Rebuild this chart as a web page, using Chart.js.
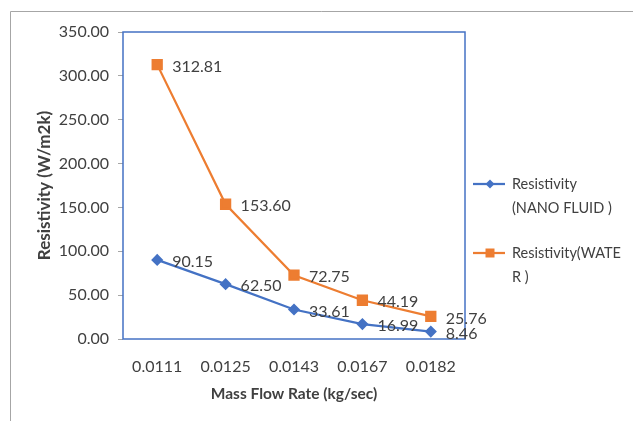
<!DOCTYPE html>
<html>
<head>
<meta charset="utf-8">
<script src="https://cdn.jsdelivr.net/npm/chart.js@4.4.0/dist/chart.umd.min.js"></script>
<style>
  html, body { margin: 0; padding: 0; background: #fff; }
  #wrap { width: 633px; height: 421px; }
</style>
</head>
<body>
<div id="wrap"><canvas id="c" width="633" height="421"></canvas></div>
<script>
  const categories = ["0.0111", "0.0125", "0.0143", "0.0167", "0.0182"];
  const nanoFluid = [90.15, 62.50, 33.61, 16.99, 8.46];
  const water = [312.81, 153.60, 72.75, 44.19, 25.76];
  const yTicks = [0, 50, 100, 150, 200, 250, 300, 350];

  const nanoLegend = ["Resistivity", "(NANO FLUID )"];
  const waterLegend = ["Resistivity(WATE", "R )"];

  const BLUE = "#4472C4";
  const ORANGE = "#ED7D31";
  const TEXT = "#404040";
  const FONT = "Lato, 'Liberation Sans', sans-serif";

  function drawMarker(ctx, style, x, y, color) {
    ctx.fillStyle = color;
    ctx.beginPath();
    if (style === "rect") {
      ctx.rect(x - 4.5, y - 4.5, 9, 9);
    } else {
      ctx.moveTo(x - 4.5, y);
      ctx.lineTo(x, y - 4.5);
      ctx.lineTo(x + 4.5, y);
      ctx.lineTo(x, y + 4.5);
      ctx.closePath();
    }
    ctx.fill();
  }

  // outer frame + plot border
  const framePlugin = {
    id: "frame",
    beforeDraw(chart) {
      const ctx = chart.ctx;
      ctx.save();
      ctx.strokeStyle = "#A6A6A6";
      ctx.lineWidth = 1;
      ctx.beginPath();
      ctx.moveTo(10.5, 421);
      ctx.lineTo(10.5, 11.5);
      ctx.lineTo(633, 11.5);
      ctx.stroke();
      ctx.restore();
    },
    beforeDatasetsDraw(chart) {
      const a = chart.chartArea;
      const ctx = chart.ctx;
      ctx.save();
      ctx.strokeStyle = BLUE;
      ctx.lineWidth = 1.5;
      ctx.strokeRect(a.left, a.top, a.right - a.left, a.bottom - a.top);
      ctx.restore();
    }
  };

  // value labels to the right of each point
  const labelPlugin = {
    id: "valueLabels",
    afterDatasetsDraw(chart) {
      const ctx = chart.ctx;
      ctx.save();
      ctx.font = "16px " + FONT;
      ctx.fillStyle = TEXT;
      ctx.textAlign = "left";
      ctx.textBaseline = "middle";
      chart.data.datasets.forEach((ds, i) => {
        chart.getDatasetMeta(i).data.forEach((pt, j) => {
          ctx.fillText(ds.data[j].toFixed(2), pt.x + 15, pt.y + 2);
        });
      });
      ctx.restore();
    }
  };

  // legend at the right, with wrapped text like the original
  const legendPlugin = {
    id: "sideLegend",
    afterDraw(chart) {
      const ctx = chart.ctx;
      const x0 = chart.chartArea.right + 8;
      const items = [
        { lines: nanoLegend, color: BLUE, style: "rectRot", y: 184 },
        { lines: waterLegend, color: ORANGE, style: "rect", y: 253 }
      ];
      ctx.save();
      ctx.font = "14.5px " + FONT;
      ctx.textBaseline = "middle";
      items.forEach(it => {
        ctx.strokeStyle = it.color;
        ctx.lineWidth = 2.25;
        ctx.beginPath();
        ctx.moveTo(x0, it.y);
        ctx.lineTo(x0 + 32, it.y);
        ctx.stroke();
        drawMarker(ctx, it.style, x0 + 17, it.y, it.color);
        ctx.fillStyle = TEXT;
        it.lines.forEach((t, k) => ctx.fillText(t, x0 + 39, it.y + k * 24.5));
      });
      ctx.restore();
    }
  };

  new Chart(document.getElementById("c"), {
    type: "line",
    data: {
      labels: categories,
      datasets: [
        {
          label: "Resistivity (NANO FLUID )",
          data: nanoFluid,
          borderColor: BLUE,
          backgroundColor: BLUE,
          borderWidth: 2.25,
          pointStyle: "rectRot",
          pointRadius: 4.5,
          pointHoverRadius: 4.5,
          tension: 0
        },
        {
          label: "Resistivity(WATER )",
          data: water,
          borderColor: ORANGE,
          backgroundColor: ORANGE,
          borderWidth: 2.25,
          pointStyle: "rect",
          pointRadius: 6.4,
          pointHoverRadius: 6.4,
          tension: 0
        }
      ]
    },
    options: {
      responsive: false,
      animation: false,
      layout: { padding: { top: 32, right: 168, left: 0, bottom: 0 } },
      plugins: {
        legend: { display: false },
        tooltip: { enabled: false }
      },
      scales: {
        x: {
          offset: true,
          grid: { display: false },
          border: { display: false },
          ticks: { color: TEXT, font: { family: FONT, size: 16 }, padding: 10, maxRotation: 0 },
          title: {
            display: true,
            text: "Mass Flow Rate (kg/sec)",
            color: TEXT,
            font: { family: FONT, size: 15.5, weight: "bold" },
            padding: { top: 0, bottom: 18 }
          },
          afterFit(scale) { scale.height = 82; }
        },
        y: {
          min: 0,
          max: 350,
          afterBuildTicks(scale) { scale.ticks = yTicks.map(v => ({ value: v })); },
          grid: {
            drawOnChartArea: false,
            drawTicks: true,
            tickLength: 5,
            tickColor: "#A6A6A6"
          },
          border: { display: false },
          ticks: {
            color: TEXT,
            font: { family: FONT, size: 16 },
            padding: 9,
            callback: v => Number(v).toFixed(2)
          },
          title: {
            display: true,
            text: "Resistivity (W/m2k)",
            color: TEXT,
            font: { family: FONT, size: 17, weight: "bold" },
            padding: { top: 34, bottom: 0 }
          },
          afterFit(scale) { scale.width = 123; }
        }
      }
    },
    plugins: [framePlugin, labelPlugin, legendPlugin]
  });
</script>
</body>
</html>
